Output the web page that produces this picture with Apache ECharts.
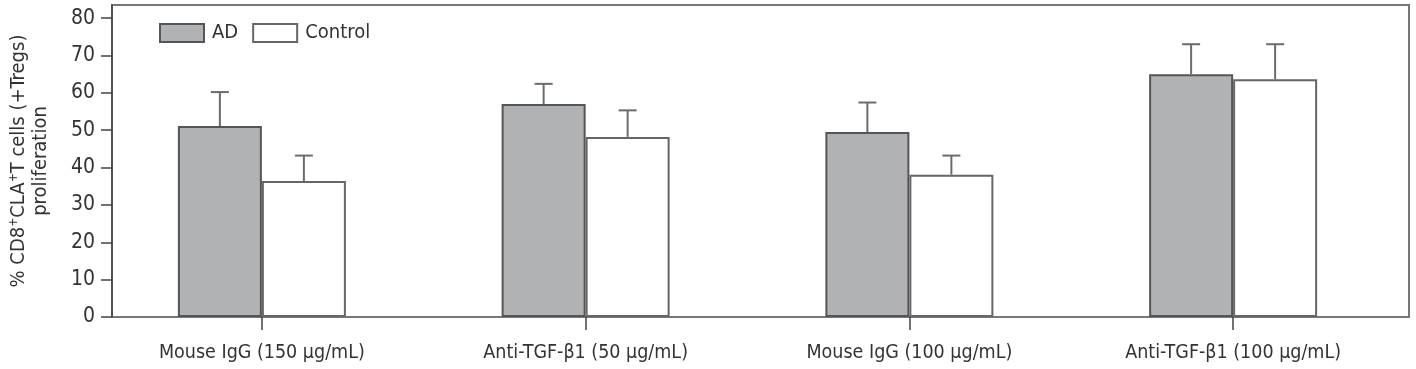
<!DOCTYPE html>
<html>
<head>
<meta charset="utf-8">
<script src="https://cdn.jsdelivr.net/npm/echarts@6/dist/echarts.min.js"></script>
<style>
  html, body { margin: 0; padding: 0; background: #fff; }
  #chart { width: 1416px; height: 369px; }
</style>
</head>
<body>
<div id="chart"></div>
<script>
const categories = ['Mouse IgG (150 μg/mL)', 'Anti-TGF-β1 (50 μg/mL)', 'Mouse IgG (100 μg/mL)', 'Anti-TGF-β1 (100 μg/mL)'];
const adMean = [51.1, 57.0, 49.5, 65.0];
const adErr = [9.1, 5.4, 7.9, 8.0];
const ctrlMean = [36.4, 48.2, 38.1, 63.6];
const ctrlErr = [6.8, 7.1, 5.1, 9.4];
const yTicks = [0, 10, 20, 30, 40, 50, 60, 70, 80];

const FONT = "'DejaVu Sans Condensed', 'Liberation Sans Narrow', sans-serif";
const BAR_W = 84;
const Y_MAX = 83.5;

const chart = echarts.init(document.getElementById('chart'));

// error bar drawn above each bar, shifted left/right from the category centre
function errorBars(offset) {
    return function (params, api) {
        const i = api.value(0);
        const m = api.value(1);
        const e = api.value(2);
        const base = api.coord([i, m]);
        const top = api.coord([i, m + e]);
        const x = base[0] + offset;
        const st = { stroke: '#6b6b6b', lineWidth: 2 };
        return {
            type: 'group',
            children: [
                { type: 'line', shape: { x1: x, y1: base[1], x2: x, y2: top[1] }, style: st },
                { type: 'line', shape: { x1: x - 9, y1: top[1], x2: x + 9, y2: top[1] }, style: st }
            ]
        };
    };
}

const option = {
    animation: false,
    legend: {
        data: ['AD', 'Control'],
        left: 154,
        top: 18,
        icon: 'rect',
        itemWidth: 44,
        itemHeight: 18,
        itemGap: 14,
        textStyle: { fontFamily: FONT, fontSize: 20, color: '#333', padding: [0, 0, 0, 3] }
    },
    grid: [
        { left: 112, right: 7, top: 5, bottom: 52, show: true, borderColor: '#777', borderWidth: 2 },
        { left: 100, right: 21, top: 5, bottom: 52 }
    ],
    xAxis: [
        { gridIndex: 0, type: 'value', show: false, min: 0, max: 1 },
        {
            gridIndex: 1,
            type: 'category',
            data: categories,
            axisLine: { show: false },
            axisTick: { show: true, alignWithLabel: true, length: 13, lineStyle: { color: '#444', width: 1.5 } },
            axisLabel: { margin: 26, fontFamily: FONT, fontSize: 19.5, color: '#333' }
        }
    ],
    yAxis: [
        {
            gridIndex: 0,
            type: 'value',
            min: 0,
            max: Y_MAX,
            splitLine: { show: false },
            axisLine: { show: true, lineStyle: { color: '#444', width: 1.5 } },
            axisTick: { show: true, length: 11, customValues: yTicks, lineStyle: { color: '#444', width: 1.5 } },
            axisLabel: { customValues: yTicks, margin: 17, fontFamily: FONT, fontSize: 21, color: '#333' },
            name: '{t|% CD8}{s|+}{t|CLA}{s|+}{t|T cells (+Tregs)}\n{t|proliferation}',
            nameLocation: 'middle',
            nameGap: 60,
            nameTextStyle: {
                fontFamily: FONT,
                color: '#333',
                lineHeight: 22,
                rich: {
                    t: { fontFamily: FONT, fontSize: 20, color: '#333', lineHeight: 22 },
                    s: { fontFamily: FONT, fontSize: 12, color: '#333', verticalAlign: 'top', lineHeight: 22, padding: [0, 0, 8, 0] }
                }
            }
        },
        { gridIndex: 1, type: 'value', show: false, min: 0, max: Y_MAX }
    ],
    series: [
        {
            name: 'AD',
            type: 'bar',
            xAxisIndex: 1,
            yAxisIndex: 1,
            data: adMean,
            barWidth: BAR_W,
            barGap: '0%',
            itemStyle: { color: '#b1b2b4', borderColor: '#555', borderWidth: 2 }
        },
        {
            name: 'Control',
            type: 'bar',
            xAxisIndex: 1,
            yAxisIndex: 1,
            data: ctrlMean,
            barWidth: BAR_W,
            barGap: '0%',
            itemStyle: { color: '#fff', borderColor: '#666', borderWidth: 2 }
        },
        {
            type: 'custom',
            xAxisIndex: 1,
            yAxisIndex: 1,
            renderItem: errorBars(-BAR_W / 2),
            data: adMean.map((m, i) => [i, m, adErr[i]]),
            z: 3
        },
        {
            type: 'custom',
            xAxisIndex: 1,
            yAxisIndex: 1,
            renderItem: errorBars(BAR_W / 2),
            data: ctrlMean.map((m, i) => [i, m, ctrlErr[i]]),
            z: 3
        }
    ]
};

chart.setOption(option);
</script>
</body>
</html>
